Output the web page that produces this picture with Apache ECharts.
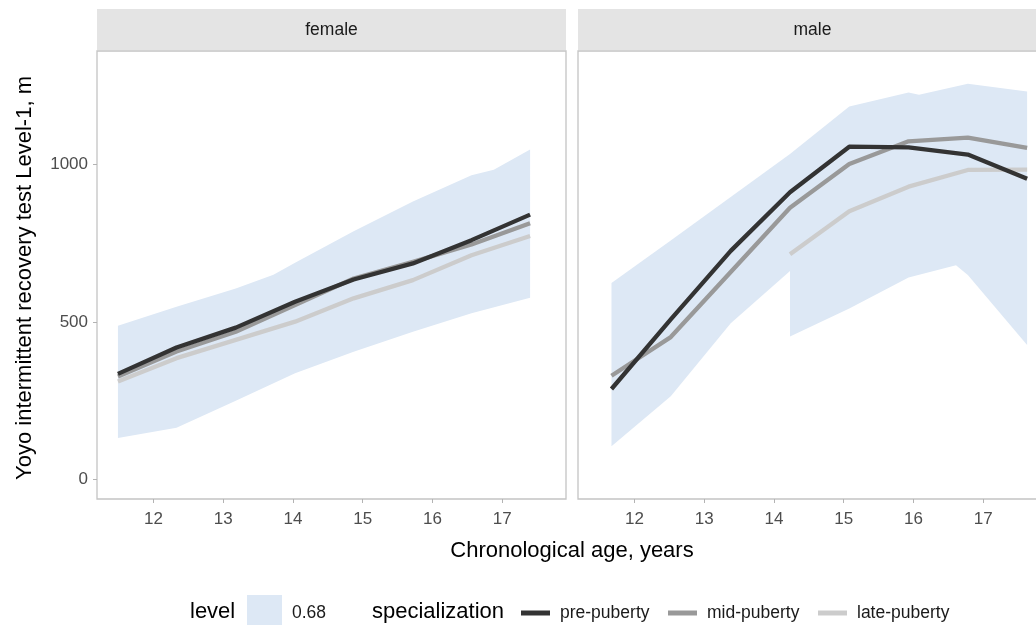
<!DOCTYPE html>
<html><head><meta charset="utf-8">
<script src="https://cdn.jsdelivr.net/npm/echarts@6/dist/echarts.min.js"></script>
<style>html,body{margin:0;padding:0;background:#fff;overflow:hidden}#c{width:1052px;height:625px}</style>
</head><body><div id="c"></div>
<script>
// ---------------- data ----------------
const facets = ['female', 'male'];
const specializations = ['pre-puberty', 'mid-puberty', 'late-puberty'];
const ribbonLevel = '0.68';
const xTicks = [12, 13, 14, 15, 16, 17];
const yTicks = [0, 500, 1000];

// female trajectories
const femaleAge  = [11.49, 12.33, 13.18, 14.03, 14.87, 15.72, 16.56, 17.40];
const femalePre  = [335, 419, 482, 564, 635, 686, 760, 841];
const femaleMid  = [327, 406, 469, 554, 638, 691, 746, 814];
const femaleLate = [311, 385, 443, 501, 575, 633, 712, 773];

// male trajectories
const maleAge  = [11.67, 12.52, 13.38, 14.23, 15.08, 15.93, 16.78, 17.63];
const malePre  = [287, 508, 726, 912, 1057, 1055, 1032, 955];
const maleMid  = [329, 452, 659, 863, 1002, 1074, 1086, 1053];
const maleLate = [null, null, null, 715, 852, 930, 983, 984];

// 0.68 band (outer envelope)
const femaleUpperAge = [11.49, 12.33, 13.18, 13.72, 14.03, 14.87, 15.72, 16.56, 16.88, 17.40];
const femaleUpper    = [488, 548, 606, 650, 688, 788, 883, 966, 984, 1048];
const femaleLowerAge = [11.49, 12.33, 13.18, 14.03, 14.87, 15.72, 16.56, 17.40];
const femaleLower    = [131, 164, 250, 337, 405, 469, 528, 577];

const maleUpperAge = [11.67, 12.52, 13.38, 14.23, 15.08, 15.93, 16.08, 16.78, 17.63];
const maleUpper    = [624, 759, 897, 1034, 1185, 1229, 1222, 1257, 1232];
const maleLowerAge = [11.67, 12.52, 13.38, 14.23, 14.23, 15.08, 15.93, 16.61, 16.78, 17.63];
const maleLower    = [105, 264, 496, 662, 454, 543, 641, 680, 649, 427];

// ---------------- styling ----------------
const FONT = '"Liberation Sans", Arial, sans-serif';
const lineColors = {'pre-puberty': '#333333', 'mid-puberty': '#999999', 'late-puberty': '#cccccc'};
const ribbonColor = '#dde8f5';
const X_MIN = 11.19, X_MAX = 17.915, Y_MIN = -62.5, Y_MAX = 1361;

const chart = echarts.init(document.getElementById('c'), null, {renderer: 'canvas'});

function pairs(ages, vals) {
  const out = [];
  ages.forEach((a, i) => { if (vals[i] != null) out.push([a, vals[i]]); });
  return out;
}

function ribbonSeries(gi, upAge, up, loAge, lo) {
  return {
    type: 'custom', name: ribbonLevel, coordinateSystem: 'cartesian2d',
    xAxisIndex: gi, yAxisIndex: gi, silent: true, z: 1,
    itemStyle: {color: ribbonColor},
    data: [[upAge[0], up[0]]],
    renderItem: function (params, api) {
      const pts = [];
      for (let i = 0; i < upAge.length; i++) pts.push(api.coord([upAge[i], up[i]]));
      for (let i = loAge.length - 1; i >= 0; i--) pts.push(api.coord([loAge[i], lo[i]]));
      return {type: 'polygon', shape: {points: pts}, style: {fill: ribbonColor}};
    }
  };
}

function lineSeries(gi, name, ages, vals) {
  return {
    type: 'line', name: name, xAxisIndex: gi, yAxisIndex: gi, z: 3,
    data: pairs(ages, vals), showSymbol: false, symbol: 'none', silent: true,
    itemStyle: {color: lineColors[name]},
    lineStyle: {color: lineColors[name], width: 4.3, join: 'round', cap: 'butt'}
  };
}

function xAxis(gi) {
  return {
    type: 'value', gridIndex: gi, min: X_MIN, max: X_MAX, position: 'bottom',
    axisLine: {show: false, onZero: false}, splitLine: {show: false},
    axisTick: {show: true, length: 4, lineStyle: {color: '#b3b3b3', width: 1}, customValues: xTicks},
    axisLabel: {show: true, customValues: xTicks, color: '#4d4d4d', fontSize: 17, fontFamily: FONT, margin: 12,
                formatter: v => String(v)}
  };
}
function yAxis(gi) {
  const show = gi === 0;
  return {
    type: 'value', gridIndex: gi, min: Y_MIN, max: Y_MAX, position: 'left',
    axisLine: {show: false, onZero: false}, splitLine: {show: false},
    axisTick: {show: show, length: 4, lineStyle: {color: '#b3b3b3', width: 1}, customValues: yTicks},
    axisLabel: {show: show, customValues: yTicks, color: '#4d4d4d', fontSize: 17, fontFamily: FONT, margin: 9,
                formatter: v => String(v)}
  };
}

const panelLeft = [97, 578];
const panelW = 469, panelTop = 51, panelH = 448;

const graphic = [];
facets.forEach((f, i) => {
  graphic.push({type: 'rect', z: 0, shape: {x: panelLeft[i], y: 9, width: panelW, height: 41}, style: {fill: '#e4e4e4'}});
  graphic.push({type: 'text', z: 10, x: panelLeft[i] + panelW / 2, y: 30,
    style: {text: f, fill: '#1a1a1a', font: '17.5px ' + FONT, textAlign: 'center', textVerticalAlign: 'middle'}});
});
graphic.push({type: 'text', x: 25, y: 278, rotation: Math.PI / 2,
  style: {text: 'Yoyo intermittent recovery test Level-1, m', fill: '#000', font: '22px ' + FONT, textAlign: 'center', textVerticalAlign: 'middle'}});
graphic.push({type: 'text', x: 572, y: 551,
  style: {text: 'Chronological age, years', fill: '#000', font: '22px ' + FONT, textAlign: 'center', textVerticalAlign: 'middle'}});
graphic.push({type: 'text', x: 190, y: 612,
  style: {text: 'level', fill: '#000', font: '22px ' + FONT, textAlign: 'left', textVerticalAlign: 'middle'}});
graphic.push({type: 'text', x: 372, y: 612,
  style: {text: 'specialization', fill: '#000', font: '22px ' + FONT, textAlign: 'left', textVerticalAlign: 'middle'}});

const keyLeft = {'pre-puberty': 521, 'mid-puberty': 668, 'late-puberty': 818};
const legendText = {fontSize: 17.5, fontFamily: FONT, color: '#1a1a1a', padding: [0, 0, 0, 5]};

const option = {
  animation: false,
  backgroundColor: '#ffffff',
  grid: facets.map((f, i) => ({
    left: panelLeft[i], top: panelTop, width: panelW, height: panelH, containLabel: false,
    show: true, backgroundColor: '#ffffff', borderColor: '#c4c4c4', borderWidth: 1.3
  })),
  xAxis: [xAxis(0), xAxis(1)],
  yAxis: [yAxis(0), yAxis(1)],
  legend: [
    {data: [ribbonLevel], left: 247, top: 595, padding: 0, icon: 'rect', itemWidth: 35, itemHeight: 36,
     selectedMode: false, textStyle: legendText}
  ].concat(specializations.map(s => ({
    data: [s], left: keyLeft[s], top: 604, padding: 0, icon: 'rect', itemWidth: 29, itemHeight: 5,
    selectedMode: false, textStyle: legendText
  }))),
  graphic: graphic,
  series: [
    ribbonSeries(0, femaleUpperAge, femaleUpper, femaleLowerAge, femaleLower),
    ribbonSeries(1, maleUpperAge, maleUpper, maleLowerAge, maleLower),
    lineSeries(0, 'late-puberty', femaleAge, femaleLate),
    lineSeries(0, 'mid-puberty', femaleAge, femaleMid),
    lineSeries(0, 'pre-puberty', femaleAge, femalePre),
    lineSeries(1, 'late-puberty', maleAge, maleLate),
    lineSeries(1, 'mid-puberty', maleAge, maleMid),
    lineSeries(1, 'pre-puberty', maleAge, malePre)
  ]
};
chart.setOption(option);
</script>
</body></html>
